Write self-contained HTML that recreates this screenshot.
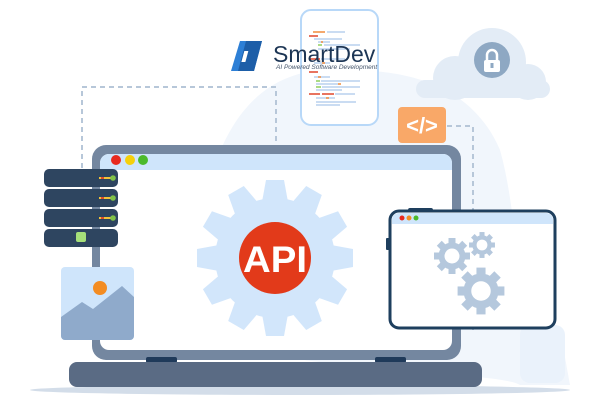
<!DOCTYPE html>
<html><head><meta charset="utf-8"><style>
html,body{margin:0;padding:0;background:#fff;width:600px;height:403px;overflow:hidden}
svg{display:block}
</style></head><body>
<svg width="600" height="403" viewBox="0 0 600 403" xmlns="http://www.w3.org/2000/svg">
<defs>
<g id="gearS">
<circle r="13.5" fill="#b5c8dd"/>
<g fill="#b5c8dd">
<rect x="-3.5" y="-18" width="7" height="8"/><rect x="-3.5" y="10" width="7" height="8"/>
<rect x="-18" y="-3.5" width="8" height="7"/><rect x="10" y="-3.5" width="8" height="7"/>
<rect x="-3.5" y="-18" width="7" height="8" transform="rotate(45)"/><rect x="-3.5" y="10" width="7" height="8" transform="rotate(45)"/>
<rect x="-18" y="-3.5" width="8" height="7" transform="rotate(45)"/><rect x="10" y="-3.5" width="8" height="7" transform="rotate(45)"/>
</g>
<circle r="7.5" fill="#fff"/>
</g>
</defs>
<path d="M210 180 C230 110 270 70 330 70 C400 68 470 80 500 150 C520 220 510 300 560 330 L570 385 L520 385 C500 370 230 370 210 330 Z" fill="#f1f6fc"/>
<rect x="520" y="325" width="45" height="58" rx="10" fill="#eaf2fb"/>
<g fill="none" stroke="#b7c7d9" stroke-width="2" stroke-dasharray="5,4">
<path d="M82 168 V87 H276 V145"/>
<path d="M447 126 H473 V330"/>
</g>
<line x1="95" y1="247" x2="95" y2="268" stroke="#7487a0" stroke-width="4"/>
<g fill="#e3ecf6">
<circle cx="492" cy="62" r="34"/>
<circle cx="455" cy="78" r="22"/>
<circle cx="528" cy="82" r="18"/>
<rect x="416" y="80" width="134" height="18" rx="9"/>
</g>
<circle cx="492" cy="60" r="18" fill="#8ea8c3"/>
<rect x="484" y="60" width="16" height="12" rx="2" fill="#fff"/>
<path d="M487 60 V55 a5 5 0 0 1 10 0 V60" fill="none" stroke="#fff" stroke-width="2.5"/>
<rect x="490.5" y="63" width="3" height="5" fill="#8ea8c3"/>
<rect x="398" y="107" width="48" height="36" rx="4" fill="#f9a868"/>
<text x="422" y="133" font-family="Liberation Sans, sans-serif" font-size="22" font-weight="bold" fill="#fff" text-anchor="middle">&lt;/&gt;</text>
<rect x="301" y="10" width="77" height="115" rx="10" fill="#fff" stroke="#b8d8f8" stroke-width="2"/>
<g stroke-width="1.5">
<line x1="313" y1="32" x2="325" y2="32" stroke="#f08a3a"/><line x1="327" y1="32" x2="345" y2="32" stroke="#b8d0ee"/>
<line x1="309" y1="36" x2="318" y2="36" stroke="#e0452a"/><line x1="314" y1="39" x2="342" y2="39" stroke="#b8d0ee"/>
<line x1="318" y1="42" x2="330" y2="42" stroke="#b8d0ee"/><line x1="321" y1="42" x2="323" y2="42" stroke="#f08a3a"/>
<line x1="318" y1="45" x2="322" y2="45" stroke="#8fcf5a"/><line x1="324" y1="45" x2="360" y2="45" stroke="#b8d0ee"/>
<line x1="318" y1="49" x2="350" y2="49" stroke="#b8d0ee"/>
<line x1="309" y1="59" x2="320" y2="59" stroke="#e0452a"/><line x1="321" y1="59" x2="345" y2="59" stroke="#b8d0ee"/>
<line x1="314" y1="63" x2="330" y2="63" stroke="#b8d0ee"/><line x1="322" y1="63" x2="325" y2="63" stroke="#f08a3a"/>
<line x1="309" y1="72" x2="318" y2="72" stroke="#e0452a"/>
<line x1="314" y1="77" x2="330" y2="77" stroke="#b8d0ee"/><line x1="318" y1="77" x2="321" y2="77" stroke="#f08a3a"/>
<line x1="316" y1="81" x2="320" y2="81" stroke="#8fcf5a"/><line x1="321" y1="81" x2="360" y2="81" stroke="#b8d0ee"/>
<line x1="316" y1="84" x2="338" y2="84" stroke="#b8d0ee"/><line x1="338" y1="84" x2="341" y2="84" stroke="#f08a3a"/>
<line x1="316" y1="87" x2="321" y2="87" stroke="#8fcf5a"/><line x1="322" y1="87" x2="360" y2="87" stroke="#b8d0ee"/>
<line x1="316" y1="90" x2="342" y2="90" stroke="#b8d0ee"/>
<line x1="309" y1="94" x2="320" y2="94" stroke="#e0452a"/><line x1="322" y1="94" x2="334" y2="94" stroke="#e0452a"/><line x1="335" y1="94" x2="355" y2="94" stroke="#b8d0ee"/>
<line x1="316" y1="98" x2="335" y2="98" stroke="#b8d0ee"/><line x1="326" y1="98" x2="329" y2="98" stroke="#f08a3a"/>
<line x1="316" y1="102" x2="356" y2="102" stroke="#b8d0ee"/><line x1="316" y1="105" x2="340" y2="105" stroke="#b8d0ee"/>
</g>
<path d="M240 41 H262 L254 71 H231 Z" fill="#2d7fd6"/>
<path d="M246 41 H262 L254 71 H238 Z" fill="#1d5ea8"/>
<rect x="244" y="51" width="4" height="11" fill="#fff" transform="skewX(-15) translate(14 0)"/>
<text x="273" y="62" font-family="Liberation Sans, sans-serif" font-size="23" fill="#1c3554">SmartDev</text>
<text x="276" y="69" font-family="Liberation Sans, sans-serif" font-size="6.5" font-style="italic" fill="#44546a">AI Powered Software Development</text>
<rect x="92" y="145" width="369" height="215" rx="14" fill="#7487a0"/>
<rect x="100" y="154" width="352" height="196" rx="9" fill="#fff"/>
<path d="M100 163 a9 9 0 0 1 9 -9 H443 a9 9 0 0 1 9 9 V170 H100 Z" fill="#cfe5fb"/>
<circle cx="116" cy="160" r="5" fill="#e8291e"/>
<circle cx="130" cy="160" r="5" fill="#f5d00b"/>
<circle cx="143" cy="160" r="5" fill="#4cba2b"/>
<rect x="146" y="357" width="31" height="6" rx="2" fill="#1f3a5a"/>
<rect x="375" y="357" width="31" height="6" rx="2" fill="#1f3a5a"/>
<ellipse cx="300" cy="390" rx="270" ry="5" fill="#d3dde9"/>
<rect x="69" y="362" width="413" height="25" rx="8" fill="#5a6b84"/>
<g transform="translate(275 258)" fill="#d2e6fb">
<circle r="60"/>
<g id="teeth">
<path d="M-13 -56 L-9 -78 H9 L13 -56 Z"/>
</g>
<use href="#teeth" transform="rotate(30)"/><use href="#teeth" transform="rotate(60)"/><use href="#teeth" transform="rotate(90)"/>
<use href="#teeth" transform="rotate(120)"/><use href="#teeth" transform="rotate(150)"/><use href="#teeth" transform="rotate(180)"/>
<use href="#teeth" transform="rotate(210)"/><use href="#teeth" transform="rotate(240)"/><use href="#teeth" transform="rotate(270)"/>
<use href="#teeth" transform="rotate(300)"/><use href="#teeth" transform="rotate(330)"/>
</g>
<circle cx="275" cy="258" r="36" fill="#e23a1a"/>
<text x="275" y="272" font-family="Liberation Sans, sans-serif" font-size="37" font-weight="bold" fill="#fff" text-anchor="middle" textLength="64" lengthAdjust="spacingAndGlyphs">API</text>
<g fill="#2e4560">
<rect x="44" y="169" width="74" height="18" rx="5"/>
<rect x="44" y="189" width="74" height="18" rx="5"/>
<rect x="44" y="209" width="74" height="18" rx="5"/>
<rect x="44" y="229" width="74" height="18" rx="5"/>
</g>
<g stroke-width="2">
<line x1="99" y1="178" x2="112" y2="178" stroke="#f2c33a"/><line x1="101" y1="178" x2="104" y2="178" stroke="#e04a2a"/>
<line x1="99" y1="198" x2="112" y2="198" stroke="#f2c33a"/><line x1="101" y1="198" x2="104" y2="198" stroke="#e04a2a"/>
<line x1="99" y1="218" x2="112" y2="218" stroke="#f2c33a"/><line x1="101" y1="218" x2="104" y2="218" stroke="#e04a2a"/>
</g>
<circle cx="113" cy="178" r="2.8" fill="#7fc248"/><circle cx="113" cy="198" r="2.8" fill="#7fc248"/><circle cx="113" cy="218" r="2.8" fill="#7fc248"/>
<rect x="76" y="232" width="10" height="10" rx="2" fill="#a6e07a"/>
<rect x="61" y="267" width="73" height="73" rx="4" fill="#cfe5fb"/>
<path d="M61 317 L82 302 L93 309 L122 286 L134 297 V336 a4 4 0 0 1 -4 4 H65 a4 4 0 0 1 -4 -4 Z" fill="#8faacb"/>
<circle cx="100" cy="288" r="7" fill="#f38c22"/>
<rect x="408" y="208" width="25" height="5" rx="2" fill="#1e3f5e"/>
<rect x="386" y="238" width="4" height="12" rx="1" fill="#1e3f5e"/>
<rect x="390" y="211" width="165" height="117" rx="9" fill="#fff" stroke="#1e3f5e" stroke-width="3"/>
<path d="M392 220 a7 7 0 0 1 7 -7 H546 a7 7 0 0 1 7 7 V224 H392 Z" fill="#cfe5fb"/>
<circle cx="402" cy="218" r="2.5" fill="#e8291e"/><circle cx="409" cy="218" r="2.5" fill="#f38c22"/><circle cx="416" cy="218" r="2.5" fill="#4cba2b"/>
<use href="#gearS" transform="translate(452 256)"/>
<use href="#gearS" transform="translate(482 245) scale(0.72)"/>
<use href="#gearS" transform="translate(481 291) scale(1.3)"/>
</svg>
</body></html>
